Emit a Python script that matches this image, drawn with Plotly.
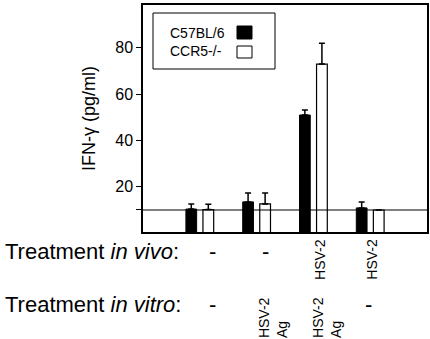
import plotly.graph_objects as go

# ---- data ----
groups = [0, 1, 2, 3]
c57_values = [10.4, 13.5, 51.0, 10.9]
c57_errors = [2.2, 3.8, 2.2, 2.6]
ccr5_values = [10.2, 12.6, 73.0, 10.0]
ccr5_errors = [2.3, 4.7, 9.0, 0.0]
series_names = ["C57BL/6", "CCR5-/-"]
y_tick_values = [10, 20, 40, 60, 80]
y_tick_labels = ["", "20", "40", "60", "80"]
baseline_value = 10
in_vivo_labels = ["-", "-", "HSV-2", "HSV-2"]
in_vitro_labels = ["-", "HSV-2<br>Ag", "HSV-2<br>Ag", "-"]

W, H = 430, 339
L, R, T, B = 143, 427, 5, 232  # plot area in pixels

def px(x):
    return (x - L) / (R - L)

def py(y):
    return (B - y) / (B - T)

FONT = "Liberation Sans, Arial, Helvetica, sans-serif"

fig = go.Figure()
fig.add_trace(go.Bar(
    x=groups, y=c57_values, name=series_names[0],
    marker=dict(color="black", line=dict(color="black", width=1)),
    error_y=dict(type="data", array=c57_errors, symmetric=False,
                 arrayminus=[0] * 4, color="black", thickness=1.5, width=3),
))
fig.add_trace(go.Bar(
    x=groups, y=ccr5_values, name=series_names[1],
    marker=dict(color="white", line=dict(color="black", width=1.2)),
    error_y=dict(type="data", array=ccr5_errors, symmetric=False,
                 arrayminus=[0] * 4, color="black", thickness=1.5, width=3),
))

fig.update_layout(
    width=W, height=H,
    margin=dict(l=L, r=W - R, t=T, b=H - B, autoexpand=False),
    paper_bgcolor="white", plot_bgcolor="white",
    barmode="group", bargap=0.4, bargroupgap=0.37,
    showlegend=False,
    font=dict(family=FONT, color="black"),
)
fig.update_xaxes(
    range=[-1, 4], showticklabels=False, ticks="", showgrid=False,
    zeroline=False, showline=True, linecolor="black", linewidth=1.5, mirror=True,
)
fig.update_yaxes(
    range=[0.5, 98.5], tickvals=y_tick_values, ticktext=y_tick_labels,
    ticks="outside", ticklen=5, tickcolor="black", tickwidth=1,
    tickfont=dict(size=16, family=FONT), showgrid=False, zeroline=False,
    showline=True, linecolor="black", linewidth=1.5, mirror=True,
)

# baseline reference line
fig.add_shape(type="line", xref="paper", yref="y", x0=0, x1=1,
              y0=baseline_value, y1=baseline_value,
              line=dict(color="black", width=1.2), layer="above")

# y-axis title
fig.add_annotation(text="IFN-γ (pg/ml)", xref="paper", yref="paper",
                   x=px(89), y=py(119), textangle=-90, showarrow=False,
                   xanchor="center", yanchor="middle",
                   font=dict(size=18, family=FONT))

# legend box
fig.add_shape(type="rect", xref="paper", yref="paper",
              x0=px(153), x1=px(275), y0=py(69), y1=py(13),
              line=dict(color="black", width=1), fillcolor="white", layer="above")
fig.add_shape(type="rect", xref="paper", yref="paper",
              x0=px(237), x1=px(252), y0=py(39), y1=py(26),
              line=dict(color="black", width=1), fillcolor="black", layer="above")
fig.add_shape(type="rect", xref="paper", yref="paper",
              x0=px(237), x1=px(252), y0=py(58), y1=py(46),
              line=dict(color="black", width=1), fillcolor="white", layer="above")
for name, yc in zip(series_names, [33, 51]):
    fig.add_annotation(text=name, xref="paper", yref="paper",
                       x=px(168), y=py(yc), xanchor="left", yanchor="middle",
                       showarrow=False, font=dict(size=14, family=FONT))

# row labels
ROW_FONT = 22
VIVO_Y, VITRO_Y = 251, 304
fig.add_annotation(text="Treatment <i>in vivo</i>:", xref="paper", yref="paper",
                   x=px(3), y=py(VIVO_Y), xanchor="left", yanchor="middle",
                   showarrow=False, font=dict(size=ROW_FONT, family=FONT))
fig.add_annotation(text="Treatment <i>in vitro</i>:", xref="paper", yref="paper",
                   x=px(3), y=py(VITRO_Y), xanchor="left", yanchor="middle",
                   showarrow=False, font=dict(size=ROW_FONT, family=FONT))

vivo_shift = [13, 9, 6, 1]
vitro_shift = [13, 16, 13, -2]
for g, lab, s in zip(groups, in_vivo_labels, vivo_shift):
    if lab == "-":
        fig.add_annotation(text=lab, xref="x", yref="paper", x=g, y=py(VIVO_Y),
                           xshift=s, xanchor="center", yanchor="middle",
                           showarrow=False, font=dict(size=ROW_FONT, family=FONT))
    else:
        fig.add_annotation(text=lab, xref="x", yref="paper", x=g, y=py(237),
                           xshift=s, xanchor="center", yanchor="top", textangle=-90,
                           showarrow=False, font=dict(size=14, family=FONT))
for g, lab, s in zip(groups, in_vitro_labels, vitro_shift):
    if lab == "-":
        fig.add_annotation(text=lab, xref="x", yref="paper", x=g, y=py(VITRO_Y),
                           xshift=s, xanchor="center", yanchor="middle",
                           showarrow=False, font=dict(size=ROW_FONT, family=FONT))
    else:
        fig.add_annotation(text=lab, xref="x", yref="paper", x=g, y=py(295),
                           xshift=s, xanchor="center", yanchor="top", textangle=-90,
                           align="left", showarrow=False,
                           font=dict(size=14, family=FONT))

fig.write_html("out.html", config={"displayModeBar": False},
               post_script="document.body.style.margin='0';")
